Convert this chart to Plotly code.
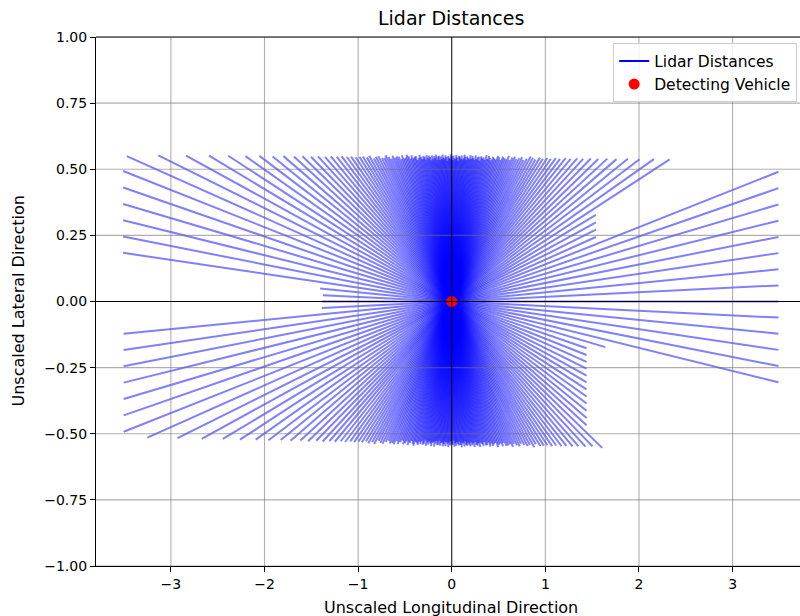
import math
import plotly.graph_objects as go

# ---- data -------------------------------------------------------------
angles_deg = list(range(0, 360))  # one lidar beam per degree

# measured range per beam (unscaled units), beam 0 .. 359
ranges = [
    # 0-12
    3.490, 3.491, 3.492, 3.495, 3.499, 3.503, 3.509, 3.516, 3.524,
    1.559, 1.564, 1.569, 1.574,
    # 13-29
    2.389, 2.226, 2.077, 1.957, 1.841, 1.748, 1.655, 1.581, 1.504, 1.445,
    1.380, 1.332, 1.276, 1.237, 1.189, 1.156, 1.113,
    # 30-69
    1.088, 1.043, 1.024, 1.006, 0.966, 0.933, 0.929, 0.901, 0.874, 0.870,
    0.847, 0.816, 0.823, 0.791, 0.780, 0.775, 0.745, 0.746, 0.740, 0.712,
    0.707, 0.704, 0.678, 0.681, 0.680, 0.658, 0.668, 0.639, 0.643, 0.631,
    0.634, 0.609, 0.620, 0.612, 0.599, 0.610, 0.586, 0.590, 0.594, 0.578,
    # 70-109
    0.589, 0.568, 0.571, 0.574, 0.556, 0.567, 0.572, 0.556, 0.548, 0.563,
    0.547, 0.554, 0.556, 0.537, 0.548, 0.556, 0.539, 0.542, 0.552, 0.535,
    0.549, 0.557, 0.540, 0.545, 0.551, 0.534, 0.549, 0.557, 0.543, 0.550,
    0.564, 0.550, 0.561, 0.549, 0.568, 0.567, 0.558, 0.581, 0.571, 0.581,
    # 110-150
    0.574, 0.592, 0.576, 0.593, 0.604, 0.597, 0.616, 0.602, 0.620, 0.629,
    0.622, 0.636, 0.654, 0.647, 0.645, 0.672, 0.676, 0.678, 0.701, 0.694,
    0.716, 0.735, 0.733, 0.740, 0.768, 0.762, 0.788, 0.805, 0.813, 0.840,
    0.840, 0.868, 0.898, 0.903, 0.922, 0.958, 0.979, 0.992, 1.040, 1.058,
    1.097,
    # 151-171
    1.128, 1.162, 1.207, 1.246, 1.298, 1.344, 1.404, 1.460, 1.531, 1.600,
    1.687, 1.773, 1.880, 1.990, 2.127, 2.271, 2.450, 2.651, 2.892, 3.183,
    3.515,
    # 172-189
    3.545, 3.536, 3.529, 3.523, 3.519, 3.515,
    1.407, 1.377, 1.387, 1.388,
    3.507, 3.510, 3.514, 3.518, 3.524, 3.531, 3.539,
    3.292,
    # 190-209
    2.975, 2.721, 2.500, 2.322, 2.158, 2.027, 1.901, 1.801, 1.700, 1.622,
    1.540, 1.477, 1.408, 1.357, 1.299, 1.257, 1.207, 1.171, 1.128, 1.098,
    # 210-249
    1.057, 1.041, 1.002, 0.989, 0.942, 0.932, 0.914, 0.882, 0.855, 0.853,
    0.831, 0.824, 0.790, 0.789, 0.766, 0.744, 0.751, 0.733, 0.712, 0.720,
    0.697, 0.679, 0.683, 0.683, 0.657, 0.654, 0.655, 0.633, 0.635, 0.615,
    0.626, 0.615, 0.595, 0.612, 0.593, 0.597, 0.579, 0.584, 0.590, 0.572,
    # 250-289
    0.564, 0.580, 0.564, 0.552, 0.565, 0.560, 0.542, 0.559, 0.547, 0.542,
    0.556, 0.547, 0.535, 0.551, 0.535, 0.539, 0.551, 0.534, 0.545, 0.528,
    0.540, 0.543, 0.526, 0.550, 0.537, 0.548, 0.534, 0.543, 0.550, 0.536,
    0.551, 0.562, 0.546, 0.551, 0.565, 0.547, 0.564, 0.571, 0.561, 0.571,
    # 290-330
    0.583, 0.570, 0.587, 0.583, 0.603, 0.586, 0.603, 0.612, 0.608, 0.629,
    0.617, 0.629, 0.645, 0.633, 0.656, 0.663, 0.659, 0.687, 0.681, 0.703,
    0.705, 0.709, 0.741, 0.741, 0.747, 0.775, 0.769, 0.800, 0.813, 0.823,
    0.855, 0.855, 0.884, 0.910, 0.914, 0.946, 0.978, 0.996, 1.040, 1.048,
    1.093,
    # 331-341
    1.124, 1.158, 1.204, 1.242, 1.295, 1.341, 1.402, 1.459, 1.531, 1.601,
    1.700,
    # 342-353
    1.514, 1.506, 1.498, 1.491, 1.484, 1.478, 1.472, 1.467, 1.462, 1.458,
    1.454, 1.451,
    # 354-359
    1.650, 3.503, 3.499, 3.495, 3.492, 3.491,
]
assert len(ranges) == len(angles_deg), len(ranges)

vehicle_x = [0.0]
vehicle_y = [0.0]

x_ticks = [-3, -2, -1, 0, 1, 2, 3]
y_ticks = [-1.0, -0.75, -0.5, -0.25, 0.0, 0.25, 0.5, 0.75, 1.0]

# ---- figure -----------------------------------------------------------
FONT = "DejaVu Sans"
fig = go.Figure()

for a, r in zip(angles_deg, ranges):
    t = math.radians(a)
    fig.add_trace(go.Scatter(
        x=[0.0, r * math.cos(t)], y=[0.0, r * math.sin(t)],
        mode="lines", line=dict(color="rgba(0,0,255,0.5)", width=2),
        showlegend=False, hoverinfo="skip"))

fig.add_trace(go.Scatter(x=[None], y=[None], mode="lines",
                         line=dict(color="blue", width=2),
                         name="Lidar Distances"))
fig.add_trace(go.Scatter(x=vehicle_x, y=vehicle_y, mode="markers",
                         marker=dict(color="red", size=11),
                         name="Detecting Vehicle", hoverinfo="skip"))

shapes = []
grid_col = "rgba(110,110,110,0.55)"
for xv in x_ticks:
    if xv != 0:
        shapes.append(dict(type="line", xref="x", yref="paper", x0=xv, x1=xv,
                           y0=0, y1=1, line=dict(color=grid_col, width=1.1),
                           layer="above"))
for yv in y_ticks:
    if yv != 0:
        shapes.append(dict(type="line", xref="paper", yref="y", x0=0, x1=1,
                           y0=yv, y1=yv, line=dict(color=grid_col, width=1.1),
                           layer="above"))
# zero lines
shapes.append(dict(type="line", xref="x", yref="paper", x0=0, x1=0, y0=0, y1=1,
                   line=dict(color="black", width=1), layer="above"))
shapes.append(dict(type="line", xref="paper", yref="y", x0=0, x1=1, y0=0, y1=0,
                   line=dict(color="black", width=1), layer="above"))
# top spine
shapes.append(dict(type="line", xref="paper", yref="paper", x0=0, x1=1, y0=1, y1=1,
                   line=dict(color="black", width=1.1), layer="above"))

fig.update_layout(
    width=800, height=616,
    margin=dict(l=96, r=0, t=37, b=50),
    paper_bgcolor="white", plot_bgcolor="white",
    font=dict(family=FONT, size=14, color="black"),
    showlegend=True,
    legend=dict(x=0.996, y=0.988, xanchor="right", yanchor="top",
                bgcolor="rgba(255,255,255,0.8)", bordercolor="#cccccc",
                borderwidth=1, font=dict(family=FONT, size=15.5),
                tracegroupgap=2),
    shapes=shapes,
    hovermode=False,
    annotations=[
        dict(text="Lidar Distances", xref="paper", yref="paper",
             x=0.504, y=1.0, yshift=6, xanchor="center", yanchor="bottom",
             showarrow=False, font=dict(family=FONT, size=19)),
        dict(text="Unscaled Longitudinal Direction", xref="paper", yref="paper",
             x=0.504, y=0, yshift=-30, xanchor="center", yanchor="top",
             showarrow=False, font=dict(family=FONT, size=16)),
        dict(text="Unscaled Lateral Direction", xref="paper", yref="paper",
             x=0, xshift=-78, y=0.5, xanchor="center", yanchor="middle",
             textangle=-90, showarrow=False, font=dict(family=FONT, size=16)),
    ],
)
fig.update_xaxes(range=[-3.80, 3.72], tickvals=x_ticks, showgrid=False,
                 zeroline=False, showline=True, linecolor="black", linewidth=1.1,
                 ticks="outside", ticklen=5, tickwidth=1.1, tickcolor="black",
                 tickfont=dict(family=FONT, size=14))
fig.update_yaxes(range=[-1.0, 1.0], tickvals=y_ticks, tickformat=".2f",
                 showgrid=False, zeroline=False, showline=True, linecolor="black",
                 linewidth=1.1, ticks="outside", ticklen=5, tickwidth=1.1,
                 tickcolor="black", tickfont=dict(family=FONT, size=14))

fig.write_html(
    "out.html",
    config={"displayModeBar": False},
    post_script=(
        "document.documentElement.style.margin='0';"
        "document.documentElement.style.overflow='hidden';"
        "document.body.style.margin='0';"
        "document.body.style.padding='0';"
        "document.body.style.overflow='hidden';"
    ),
)
